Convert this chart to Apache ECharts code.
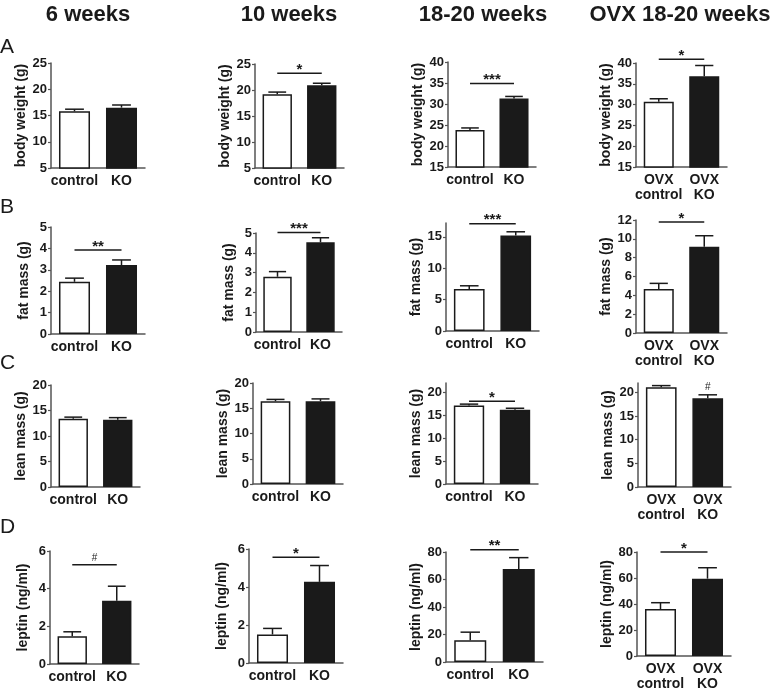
<!DOCTYPE html>
<html>
<head>
<meta charset="utf-8">
<script src="https://cdn.jsdelivr.net/npm/echarts@6/dist/echarts.min.js"></script>
<style>
  html, body { margin: 0; padding: 0; background: #fff; }
  #main { width: 777px; height: 692px; }
</style>
</head>
<body>
<div id="main"></div>
<script>
// ---- data ----
var groups = ['control', 'KO'];
var ovxGroups = ['OVX\ncontrol', 'OVX\nKO'];
var columns = ['6 weeks', '10 weeks', '18-20 weeks', 'OVX 18-20 weeks'];
var rowLetters = ['A', 'B', 'C', 'D'];
var yNames = ['body weight (g)', 'fat mass (g)', 'lean mass (g)', 'leptin (ng/ml)'];

// means [control, KO] for each column
var bodyWeightMean = [[15.8, 16.5], [19.2, 20.9], [23.8, 31.3], [30.7, 36.8]];
var bodyWeightErr  = [[0.4, 0.5], [0.4, 0.4], [0.5, 0.5], [0.7, 2.6]];
var fatMassMean = [[2.44, 3.22], [2.79, 4.53], [6.7, 15.2], [4.67, 9.16]];
var fatMassErr  = [[0.17, 0.24], [0.26, 0.23], [0.5, 0.6], [0.6, 1.17]];
var leanMassMean = [[13.4, 13.2], [16.4, 16.4], [17.1, 16.2], [21.1, 18.8]];
var leanMassErr  = [[0.3, 0.4], [0.35, 0.45], [0.3, 0.3], [0.35, 0.7]];
var leptinMean = [[1.48, 3.36], [1.5, 4.27], [15.9, 67.7], [36.1, 59.5]];
var leptinErr  = [[0.23, 0.77], [0.32, 0.86], [5.8, 8.2], [4.9, 8.4]];

// y axis ranges and tick steps
var axisMin  = [[5, 5, 15, 15], [0, 0, 0, 0], [0, 0, 0, 0], [0, 0, 0, 0]];
var axisMax  = [[25, 25, 40, 40], [5, 5, 17.2, 12], [20, 20, 22, 22], [6, 6, 80, 80]];
var axisStep = [[5, 5, 5, 5], [1, 1, 5, 2], [5, 5, 5, 5], [2, 2, 20, 20]];

// significance marks: text, level, from/to category
var sigMarks = [
  [null, {t: '*', y: 23.2, a: 0, b: 1}, {t: '***', y: 34.9, a: 0, b: 1}, {t: '*', y: 40.9, a: 0, b: 1}],
  [{t: '**', y: 3.93, a: 0, b: 1}, {t: '***', y: 5.03, a: 0, b: 1}, {t: '***', y: 17.1, a: 0, b: 1}, {t: '*', y: 11.8, a: 0, b: 1}],
  [null, null, {t: '*', y: 18.0, a: 0, b: 1}, {t: '#', y: 19.9, a: 1, b: 1}],
  [{t: '#', y: 5.27, a: 0, b: 1}, {t: '*', y: 5.56, a: 0, b: 1}, {t: '**', y: 81.7, a: 0, b: 1}, {t: '*', y: 80, a: 0, b: 1}]
];

var means = [bodyWeightMean, fatMassMean, leanMassMean, leptinMean];
var errs = [bodyWeightErr, fatMassErr, leanMassErr, leptinErr];

// ---- layout: plot boxes [left, top, right, bottom] in px ----
var boxes = [
  [[51, 63, 145, 168], [255, 64, 344, 168], [448, 62, 536, 167], [636, 63, 727, 167]],
  [[51, 227, 145, 334], [256, 233, 342, 332], [446, 223, 539, 331], [636, 220, 727, 333]],
  [[51, 385, 140, 487], [253, 383, 343, 484], [446, 383, 538, 484], [638, 383, 731, 487]],
  [[50, 551, 139, 664], [249, 549, 343, 663], [446, 552, 543, 662], [637, 552, 731, 662]]
];
var headerX = [88, 289, 483, 680];
var letterY = [47, 207, 363, 527];

var FONT = '"Liberation Sans", Arial, sans-serif';
var INK = '#1a1a1a';
var AXIS = '#555';

var chart = echarts.init(document.getElementById('main'));

function tickValues(r, c) {
  var out = [];
  for (var v = axisMin[r][c]; v <= axisMax[r][c] + 1e-9; v += axisStep[r][c]) out.push(+v.toFixed(4));
  return out;
}

function renderErr(params, api) {
  var x = api.value(0), m = api.value(1), e = api.value(2);
  var p0 = api.coord([x, m]);
  var p1 = api.coord([x, m + e]);
  var half = api.size([1, 0])[0] * 0.2;
  var st = {stroke: INK, lineWidth: 1.5};
  return {type: 'group', children: [
    {type: 'line', shape: {x1: p0[0], y1: p0[1], x2: p1[0], y2: p1[1]}, style: st},
    {type: 'line', shape: {x1: p1[0] - half, y1: p1[1], x2: p1[0] + half, y2: p1[1]}, style: st}
  ]};
}

function makeSigRender(mark) {
  return function (params, api) {
    var a = api.coord([mark.a, mark.y]);
    var b = api.coord([mark.b, mark.y]);
    var kids = [];
    if (mark.a !== mark.b) {
      kids.push({type: 'line', shape: {x1: a[0], y1: a[1], x2: b[0], y2: b[1]},
        style: {stroke: INK, lineWidth: 1.5}});
    }
    var isHash = mark.t === '#';
    kids.push({type: 'text', x: (a[0] + b[0]) / 2, y: a[1] + (isHash ? -1 : 4),
      style: {text: mark.t, fill: INK, font: (isHash ? '10px ' : 'bold 15px ') + FONT,
        textAlign: 'center', textVerticalAlign: 'bottom'}});
    return {type: 'group', children: kids};
  };
}

var grids = [], xAxes = [], yAxes = [], series = [];
for (var r = 0; r < 4; r++) {
  for (var c = 0; c < 4; c++) {
    var idx = r * 4 + c;
    var bx = boxes[r][c];
    grids.push({left: bx[0], top: bx[1], width: bx[2] - bx[0], height: bx[3] - bx[1]});
    xAxes.push({
      type: 'category', gridIndex: idx,
      data: c === 3 ? ovxGroups : groups,
      axisLine: {lineStyle: {color: AXIS, width: 1.5}},
      axisTick: {alignWithLabel: true, length: 4, lineStyle: {color: AXIS, width: 1.2}},
      axisLabel: {color: INK, fontFamily: FONT, fontWeight: 'bold', fontSize: 14, margin: 6, lineHeight: 15, interval: 0}
    });
    var ticks = tickValues(r, c);
    yAxes.push({
      type: 'value', gridIndex: idx,
      min: axisMin[r][c], max: axisMax[r][c], interval: axisStep[r][c],
      name: yNames[r], nameLocation: 'middle', nameRotate: 90, nameGap: 20,
      nameTextStyle: {color: INK, fontFamily: FONT, fontWeight: 'bold', fontSize: 14},
      splitLine: {show: false},
      axisLine: {show: true, lineStyle: {color: AXIS, width: 1.5}},
      axisTick: {show: true, length: 3, customValues: ticks, lineStyle: {color: AXIS, width: 1.2}},
      axisLabel: {color: INK, fontFamily: FONT, fontWeight: 'bold', fontSize: 13, margin: 4, customValues: ticks}
    });
    var m = means[r][c], e = errs[r][c];
    series.push({
      type: 'bar', xAxisIndex: idx, yAxisIndex: idx, barWidth: '66%', silent: true,
      data: [
        {value: m[0], itemStyle: {color: '#fff', borderColor: INK, borderWidth: 1.5}},
        {value: m[1], itemStyle: {color: INK, borderColor: INK, borderWidth: 1.5}}
      ]
    });
    series.push({
      type: 'custom', xAxisIndex: idx, yAxisIndex: idx, silent: true, z: 5,
      renderItem: renderErr,
      data: [[0, m[0], e[0]], [1, m[1], e[1]]]
    });
    var mark = sigMarks[r][c];
    if (mark) {
      series.push({
        type: 'custom', xAxisIndex: idx, yAxisIndex: idx, silent: true, z: 6, clip: false,
        renderItem: makeSigRender(mark),
        data: [[mark.a, mark.y]]
      });
    }
  }
}

var graphics = [];
columns.forEach(function (t, i) {
  graphics.push({type: 'text', x: headerX[i], y: 15,
    style: {text: t, font: 'bold 22px ' + FONT, fill: INK, textAlign: 'center', textVerticalAlign: 'middle'}});
});
rowLetters.forEach(function (t, i) {
  graphics.push({type: 'text', x: 0, y: letterY[i],
    style: {text: t, font: '21px ' + FONT, fill: INK, textAlign: 'left', textVerticalAlign: 'middle'}});
});

chart.setOption({
  animation: false,
  backgroundColor: '#fff',
  grid: grids,
  xAxis: xAxes,
  yAxis: yAxes,
  series: series,
  graphic: graphics
});
</script>
</body>
</html>
